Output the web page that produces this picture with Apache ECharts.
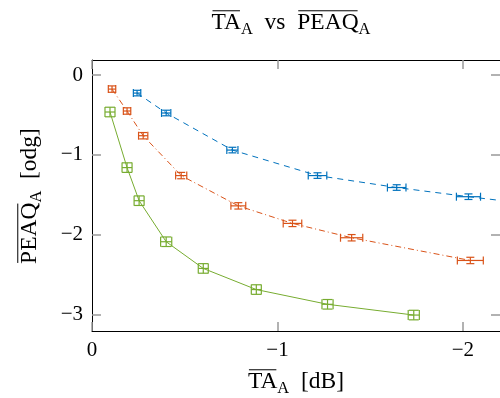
<!DOCTYPE html>
<html>
<head>
<meta charset="utf-8">
<script src="https://cdn.jsdelivr.net/npm/echarts@6/dist/echarts.min.js"></script>
<style>
  html, body { margin: 0; padding: 0; background: #fff; }
  #chart { width: 500px; height: 398px; }
</style>
</head>
<body>
<div id="chart"></div>
<script>
// ---- data ----
const xTicks = [0, -1, -2];
const yTicks = [0, -1, -2, -3];

const blueX = [-0.243, -0.40, -0.757, -1.216, -1.643, -2.03, -2.45];
const blueY = [-0.225, -0.475, -0.94, -1.26, -1.41, -1.525, -1.64];
const blueXErr = [0.02, 0.025, 0.03, 0.05, 0.05, 0.065, 0.065];
const blueYErr = [0.035, 0.035, 0.035, 0.035, 0.035, 0.035, 0.035];

const orangeX = [-0.108, -0.189, -0.276, -0.481, -0.789, -1.081, -1.40, -2.04];
const orangeY = [-0.175, -0.45, -0.76, -1.26, -1.64, -1.86, -2.04, -2.325];
const orangeXErr = [0.02, 0.02, 0.025, 0.03, 0.04, 0.05, 0.06, 0.07];
const orangeYErr = [0.04, 0.04, 0.04, 0.04, 0.04, 0.04, 0.04, 0.04];

const greenX = [-0.097, -0.189, -0.254, -0.40, -0.60, -0.886, -1.27, -1.735];
const greenY = [-0.4625, -1.16, -1.575, -2.09, -2.425, -2.69, -2.875, -3.01];
const greenXErr = [0.027, 0.027, 0.027, 0.03, 0.027, 0.027, 0.03, 0.03];
const greenYErr = [0.06, 0.06, 0.06, 0.06, 0.06, 0.06, 0.06, 0.06];

const BLUE = '#0072BD', ORANGE = '#D95319', GREEN = '#77AC30';
const FONT = 'Liberation Serif';

const chart = echarts.init(document.getElementById('chart'));

function pairs(xs, ys) {
    return xs.map((x, i) => [x, ys[i]]);
}

// x/y error bars drawn through the axes
function errorBars(color, xErr, yErr, cap) {
    return function (params, api) {
        const i = params.dataIndex;
        const x = api.value(0), y = api.value(1);
        const c = api.coord([x, y]);
        const l = api.coord([x - xErr[i], y])[0];
        const r = api.coord([x + xErr[i], y])[0];
        const t = api.coord([x, y + yErr[i]])[1];
        const b = api.coord([x, y - yErr[i]])[1];
        const style = { stroke: color, lineWidth: 1.2, fill: null };
        const seg = (x1, y1, x2, y2) => ({ type: 'line', shape: { x1, y1, x2, y2 }, style });
        return {
            type: 'group',
            children: [
                seg(l, c[1], r, c[1]),
                seg(l, c[1] - cap, l, c[1] + cap),
                seg(r, c[1] - cap, r, c[1] + cap),
                seg(c[0], t, c[0], b),
                seg(c[0] - cap, t, c[0] + cap, t),
                seg(c[0] - cap, b, c[0] + cap, b)
            ]
        };
    };
}

// text with subscripts and overlines, centred on (cx, cy)
function mathLabel(parts, cx, cy, size, rotation) {
    const ctx = document.createElement('canvas').getContext('2d');
    const widths = parts.map(p => {
        ctx.font = (p.sub ? size * 0.7 : size) + 'px "' + FONT + '"';
        return ctx.measureText(p.t).width;
    });
    const total = widths.reduce((a, b) => a + b, 0);
    let x = -total / 2;
    const children = [];
    parts.forEach((p, i) => {
        const s = p.sub ? size * 0.7 : size;
        children.push({
            type: 'text', x: x, y: p.sub ? size * 0.3 : 0,
            style: {
                text: p.t, fontFamily: FONT, fontSize: s, fill: '#000',
                align: 'left', verticalAlign: 'middle'
            }
        });
        if (p.over) {
            children.push({
                type: 'line',
                shape: { x1: x + 1, y1: -size * 0.52, x2: x + widths[i] - 1, y2: -size * 0.52 },
                style: { stroke: '#000', lineWidth: 1 }
            });
        }
        x += widths[i];
    });
    return { type: 'group', x: cx, y: cy, rotation: rotation || 0, children };
}

const minus = v => String(v).replace('-', '\u2212');

const axisCommon = {
    type: 'value',
    axisLine: { show: true, onZero: false, lineStyle: { color: '#000', width: 1 } },
    splitLine: { show: false }
};
const tickStyle = { show: true, inside: true, length: 9, lineStyle: { color: '#999', width: 1.5 } };

const option = {
    animation: false,
    grid: { left: 92, right: -1, top: 60, bottom: 67 },
    xAxis: [
        Object.assign({}, axisCommon, {
            position: 'bottom', inverse: true, min: -2.2, max: 0,
            axisTick: Object.assign({ customValues: xTicks }, tickStyle),
            axisLabel: { customValues: xTicks, formatter: minus, fontFamily: FONT, fontSize: 21, color: '#000', margin: 9 }
        }),
        Object.assign({}, axisCommon, {
            position: 'top', inverse: true, min: -2.2, max: 0,
            axisTick: Object.assign({ customValues: xTicks }, tickStyle),
            axisLabel: { show: false }
        })
    ],
    yAxis: [
        Object.assign({}, axisCommon, {
            position: 'left', min: -3.21, max: 0.19,
            axisTick: Object.assign({ customValues: yTicks }, tickStyle),
            axisLabel: { customValues: yTicks, formatter: minus, fontFamily: FONT, fontSize: 21, color: '#000', margin: 9 }
        }),
        Object.assign({}, axisCommon, {
            position: 'right', min: -3.21, max: 0.19,
            axisTick: Object.assign({ customValues: yTicks }, tickStyle),
            axisLabel: { show: false }
        })
    ],
    series: [
        {
            type: 'line', data: pairs(blueX, blueY), showSymbol: false, clip: true,
            lineStyle: { color: BLUE, width: 1, type: [6, 5] }
        },
        {
            type: 'line', data: pairs(orangeX, orangeY), showSymbol: false, clip: true,
            lineStyle: { color: ORANGE, width: 1, type: [6, 3, 1, 3] }
        },
        {
            type: 'line', data: pairs(greenX, greenY), showSymbol: false, clip: true,
            lineStyle: { color: GREEN, width: 1 }
        },
        { type: 'custom', data: pairs(blueX, blueY), clip: true, renderItem: errorBars(BLUE, blueXErr, blueYErr, 4) },
        { type: 'custom', data: pairs(orangeX, orangeY), clip: true, renderItem: errorBars(ORANGE, orangeXErr, orangeYErr, 4) },
        { type: 'custom', data: pairs(greenX, greenY), clip: true, renderItem: errorBars(GREEN, greenXErr, greenYErr, 5) }
    ],
    graphic: [
        mathLabel([{ t: 'TA', over: true }, { t: 'A', sub: true }, { t: '  vs  ' }, { t: 'PEAQ', over: true }, { t: 'A', sub: true }], 291, 23, 23.5),
        mathLabel([{ t: 'TA', over: true }, { t: 'A', sub: true }, { t: '  [dB]' }], 296, 382, 23.5),
        mathLabel([{ t: 'PEAQ', over: true }, { t: 'A', sub: true }, { t: '  [odg]' }], 30, 196, 23.5, Math.PI / 2)
    ]
};

chart.setOption(option);
</script>
</body>
</html>
